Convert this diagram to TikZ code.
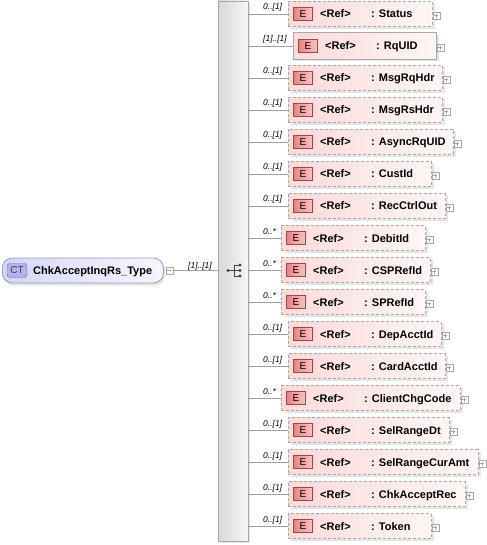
\documentclass[tikz,border=0pt]{standalone}
\usepackage{fontspec}
\setmainfont{Liberation Sans}
\definecolor{lineg}{HTML}{A0A0A0}
\definecolor{boxb}{HTML}{A8A8A8}
\definecolor{pinkL}{HTML}{FCDADA}
\definecolor{pinkR}{HTML}{FFF6F6}
\definecolor{ebadgeL}{HTML}{E88080}
\definecolor{ebadgeR}{HTML}{F8C0C0}
\definecolor{ebadgeB}{HTML}{A04848}
\definecolor{ctL}{HTML}{D6D6F6}
\definecolor{ctR}{HTML}{F6F6FF}
\definecolor{ctB}{HTML}{9898C0}
\definecolor{ctbadge}{HTML}{B4B4EC}
\definecolor{ctbadgeB}{HTML}{6464A4}
\definecolor{barL}{HTML}{D8D8D8}
\definecolor{barR}{HTML}{F6F6F6}
\tikzset{
  conn/.style={draw=lineg, line width=0.8bp},
  elbox/.style={draw=boxb, line width=0.8bp, left color=pinkL, right color=pinkR, minimum height=25bp, inner sep=0pt, anchor=west},
  dsh/.style={dash pattern=on 3bp off 2bp},
  sld/.style={solid, minimum height=27bp},
  ebadge/.style={draw=ebadgeB, line width=0.8bp, left color=ebadgeL, right color=ebadgeR, middle color=ebadgeR!60!ebadgeL, minimum width=19bp, minimum height=13bp, inner sep=0pt, anchor=west, font=\fontsize{10bp}{12bp}\selectfont},
  pmbox/.style={draw=boxb, fill=white, line width=0.6bp, minimum width=7bp, minimum height=7bp, inner sep=0pt},
  mult/.style={anchor=base west, inner sep=0pt, font=\fontsize{8.5bp}{10bp}\selectfont\itshape},
  etext/.style={anchor=base west, inner sep=0pt},
  shad/.style={fill=black!10},
}
\begin{document}
\begin{tikzpicture}[x=1bp,y=-1bp, font=\fontsize{11bp}{13bp}\selectfont\bfseries]
\useasboundingbox (0,0) rectangle (487,545);
% sequence bar
\fill[shad] (220,3) rectangle (250,543);
\draw[draw=boxb, line width=0.8bp, left color=barL, right color=barR] (218,1) rectangle (248,541);
% main CT node
\fill[shad, rounded corners=10bp] (4,260) rectangle (165,285.5);
\node[draw=ctB, line width=0.8bp, left color=ctL, right color=ctR, rounded corners=10bp, minimum width=161bp, minimum height=25bp, inner sep=0pt, anchor=west] (ct) at (2,270.5) {};
\node[draw=ctbadgeB, fill=ctbadge, rounded corners=3bp, minimum width=20bp, minimum height=14bp, inner sep=0pt, font=\fontsize{10bp}{12bp}\selectfont, text=ctbadgeB!60!black] (ctb) at (17,270.5) {CT};
\node[etext] (ctn) at (33,274.5) {ChkAcceptInqRs\_Type};
\node[pmbox] (ctm) at (169.5,270.5) {};
\draw[draw=boxb, line width=0.6bp] (ctm.west) ++(1.5bp,0) -- ++(4bp,0);
\coordinate (ctbar) at (218,270.5);
\draw[conn] (ctm.east) -- (ctbar);
\node[mult] (ctmult) at (188,268) {[1]..[1]};
% sequence icon
\begin{scope}[line width=0.9bp, draw=black!75]
\fill[black!75] (228,270.5) circle (1.6bp);
\draw (228,270.5) -- (234,270.5);
\draw (234,265) -- (234,276);
\draw (234,265) -- (240,265);
\draw (234,270.5) -- (240,270.5);
\draw (234,276) -- (240,276);
\fill[black!75] (240,265) circle (1.6bp);
\fill[black!75] (240,270.5) circle (1.6bp);
\fill[black!75] (240,276) circle (1.6bp);
\end{scope}
% children
\foreach \i/\nm/\l/\r/\lab/\st in {
 0/Status/288/432/{0..[1]}/dsh,
 1/RqUID/293/436/{[1]..[1]}/sld,
 2/MsgRqHdr/288/442/{0..[1]}/dsh,
 3/MsgRsHdr/288/442/{0..[1]}/dsh,
 4/AsyncRqUID/288/453/{0..[1]}/dsh,
 5/CustId/288/431/{0..[1]}/dsh,
 6/RecCtrlOut/288/445/{0..[1]}/dsh,
 7/DebitId/281/425/{0..*}/dsh,
 8/CSPRefId/281/430/{0..*}/dsh,
 9/SPRefId/281/425/{0..*}/dsh,
 10/DepAcctId/288/441/{0..[1]}/dsh,
 11/CardAcctId/288/445/{0..[1]}/dsh,
 12/ClientChgCode/281/460/{0..*}/dsh,
 13/SelRangeDt/288/449/{0..[1]}/dsh,
 14/SelRangeCurAmt/288/478/{0..[1]}/dsh,
 15/ChkAcceptRec/288/465/{0..[1]}/dsh,
 16/Token/288/431/{0..[1]}/dsh}{
  \pgfmathsetmacro\y{14+32*\i}
  \pgfmathsetmacro\w{\r-\l}
  \fill[shad] (\l+2.5,\y-10.5) rectangle (\r+2.5,\y+15);
  \node[elbox,\st,minimum width=\w bp] (e\i) at (\l,\y) {};
  \node[ebadge] (b\i) at (\l+5,\y) {E};
  \node[etext] (r\i) at (\l+32,\y+4) {<Ref>};
  \node[etext] (n\i) at (\l+83,\y+4) {: \nm};
  \node[pmbox] (p\i) at (\r+4.5,\y+1.5) {};
  \draw[draw=boxb, line width=0.6bp] (p\i.west) ++(1.5bp,0) -- ++(4bp,0);
  \draw[draw=boxb, line width=0.6bp] (p\i.south) ++(0,1.5bp) -- ++(0,4bp);
  \coordinate (s\i) at (248,\y);
  \draw[conn] (s\i) -- (e\i.west);
  \node[mult] (m\i) at (263,\y-4) {\lab};
}
\end{tikzpicture}
\end{document}
